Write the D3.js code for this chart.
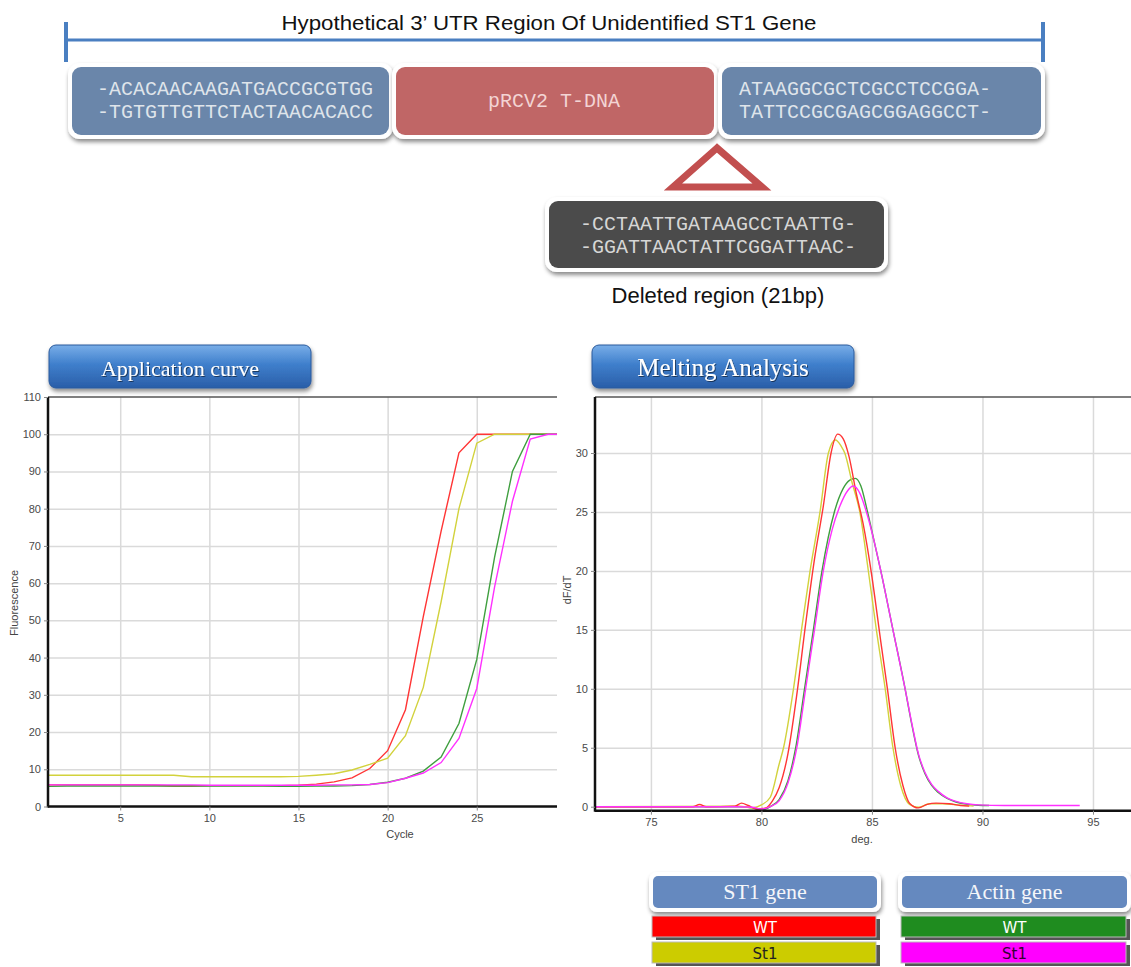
<!DOCTYPE html>
<html>
<head>
<meta charset="utf-8">
<script src="https://cdn.jsdelivr.net/npm/d3@7"></script>
<style>
  body { margin: 0; background: #fff; }
  svg { display: block; }
</style>
</head>
<body>
<svg id="mainsvg" width="1131" height="967"></svg>
<script>
// ---------- data ----------
const titleText = 'Hypothetical 3\u2019 UTR Region Of Unidentified ST1 Gene'
const leftSeq = ['-ACACAACAAGATGACCGCGTGG', '-TGTGTTGTTCTACTAACACACC']
const insertLabel = 'pRCV2 T-DNA'
const rightSeq = ['ATAAGGCGCTCGCCTCCGGA-', 'TATTCCGCGAGCGGAGGCCT-']
const deletedSeq = ['-CCTAATTGATAAGCCTAATTG-', '-GGATTAACTATTCGGATTAAC-']
const deletedLabel = 'Deleted region (21bp)'

// amplification curve (fluorescence per cycle)
const ampCycles = [1,2,3,4,5,6,7,8,9,10,11,12,13,14,15,16,17,18,19,20,21,22,23,24,25,26,27,28,29,30]
const ampSt1WT    = [5.8,5.8,5.8,5.8,5.8,5.8,5.7,5.5,5.5,5.6,5.6,5.6,5.6,5.6,5.7,6.0,6.6,7.7,10.2,15,26,51,74,95,100,100,100,100,100,100]
const ampSt1Mut   = [8.4,8.4,8.4,8.4,8.4,8.4,8.4,8.4,8.0,8.0,8.0,8.0,8.0,8.0,8.1,8.4,8.8,9.8,11.3,13,19,32,55,80,97.6,100,100,100,100,100]
const ampActinWT  = [5.4,5.5,5.5,5.5,5.5,5.5,5.5,5.5,5.5,5.5,5.5,5.5,5.5,5.4,5.4,5.5,5.5,5.6,5.9,6.5,7.6,9.5,13.3,22.3,39.5,67,90,100,100,100]
const ampActinMut = [5.8,5.8,5.8,5.8,5.8,5.8,5.8,5.8,5.8,5.7,5.7,5.7,5.7,5.7,5.7,5.7,5.8,5.8,5.9,6.4,7.6,9.0,11.8,18.3,31.7,59,82,98.7,100,100]
const ampXTicks = [5, 10, 15, 20, 25]
const ampYTicks = [0, 10, 20, 30, 40, 50, 60, 70, 80, 90, 100, 110]

// melting analysis (dF/dT per temperature, [deg, value])
const meltSt1WT = [[72.47,0],[76.9,0],[77.2,0.2],[77.5,0],[78.8,0.05],[79.1,0.3],[79.4,0.1],[79.8,-0.2],[80.2,-0.1],[80.5,0.5],[80.8,1.6],[81.2,4.5],[81.6,9.5],[82.0,15.5],[82.4,21],[82.8,25.5],[83.15,30],[83.45,31.6],[83.7,31.2],[83.95,29.8],[84.3,26.5],[84.6,24],[85.0,19.5],[85.4,14],[85.7,10],[86.05,5],[86.4,1.8],[86.7,0.3],[87.1,-0.1],[87.5,0.2],[87.9,0.3],[88.5,0.25],[89.0,0.1],[89.4,0.05]]
const meltSt1Mut = [[72.47,0],[79.0,0.05],[79.6,-0.1],[80.0,0.15],[80.4,0.8],[80.8,3.6],[81.0,5],[81.45,10],[81.85,15.5],[82.2,20],[82.65,25],[83.03,30],[83.35,31.1],[83.6,30.6],[83.77,30],[84.1,27.5],[84.45,25],[84.8,20.5],[85.2,15],[85.6,10],[85.95,5],[86.3,1.8],[86.7,0.2],[87.1,-0.05],[87.6,0.25],[88.2,0.25],[88.8,0.15],[89.6,0.05]]
const meltActinWT = [[72.47,0],[79.0,0],[79.6,-0.1],[80.0,-0.3],[80.4,0],[80.8,0.6],[81.2,2.2],[81.55,5],[81.95,10],[82.35,15],[82.74,20],[83.3,25],[83.7,27],[84.0,27.7],[84.25,27.85],[84.5,27.2],[84.8,25],[85.1,22.5],[85.4,20],[85.95,15],[86.5,10],[86.8,7],[87.1,4.4],[87.4,2.8],[87.7,1.8],[88.0,1.2],[88.4,0.7],[88.8,0.4],[89.3,0.2],[89.8,0.12],[90.3,0.1]]
const meltActinMut = [[72.47,0],[79.0,0],[79.6,-0.05],[80.0,-0.2],[80.4,0],[80.8,0.5],[81.2,2],[81.6,5],[82.0,10],[82.4,15],[82.8,20],[83.2,23.5],[83.55,25.5],[83.9,26.8],[84.15,27.2],[84.45,26.6],[84.75,25],[85.1,22.5],[85.4,20],[85.95,15],[86.5,10],[86.8,7.1],[87.1,4.5],[87.4,2.9],[87.7,1.9],[88.0,1.3],[88.4,0.75],[88.8,0.45],[89.3,0.25],[89.8,0.15],[91.0,0.1],[94.4,0.1]]
const meltXTicks = [75, 80, 85, 90, 95]
const meltYTicks = [0, 5, 10, 15, 20, 25, 30]

const curveColors = ['#ff3535', '#d2d23c', '#3f9f3f', '#ff30ff']
const legendGenes = ['ST1 gene', 'Actin gene']
const legendRows = ['WT', 'St1']
const legendFills = [['#ff0000', '#cccc00'], ['#1f8c1f', '#ff00ff']]
const legendText = [['#ffffff', '#222222'], ['#ffffff', '#330033']]

// ---------- setup ----------
const svg = d3.select('#mainsvg')
const defs = svg.append('defs')

const shadow = defs.append('filter').attr('id', 'shadow')
  .attr('x', '-10%').attr('y', '-20%').attr('width', '120%').attr('height', '150%')
shadow.append('feDropShadow').attr('dx', 1).attr('dy', 3).attr('stdDeviation', 2)
  .attr('flood-color', '#000').attr('flood-opacity', 0.45)

const txtShadow = defs.append('filter').attr('id', 'txtshadow')
txtShadow.append('feDropShadow').attr('dx', 1).attr('dy', 1).attr('stdDeviation', 0.6)
  .attr('flood-color', '#000').attr('flood-opacity', 0.5)

const btnGrad = defs.append('linearGradient').attr('id', 'btngrad')
  .attr('x1', 0).attr('y1', 0).attr('x2', 0).attr('y2', 1)
btnGrad.append('stop').attr('offset', '0%').attr('stop-color', '#79aee8')
btnGrad.append('stop').attr('offset', '45%').attr('stop-color', '#3f7fcc')
btnGrad.append('stop').attr('offset', '100%').attr('stop-color', '#2a5ea8')

// ---------- top diagram ----------
const diagram = svg.append('g')
diagram.append('text').attr('x', 549).attr('y', 30)
  .attr('text-anchor', 'middle').attr('font-family', 'Liberation Sans, Arial, sans-serif')
  .attr('font-size', 21).attr('fill', '#111')
  .attr('textLength', 535).attr('lengthAdjust', 'spacingAndGlyphs')
  .text(titleText)

diagram.append('line').attr('x1', 66).attr('x2', 1043).attr('y1', 40).attr('y2', 40)
  .attr('stroke', '#4a7fc1').attr('stroke-width', 3)
;[66, 1043].forEach(xx => {
  diagram.append('line').attr('x1', xx).attr('x2', xx).attr('y1', 22).attr('y2', 62)
    .attr('stroke', '#4a7fc1').attr('stroke-width', 4)
})

function seqBox(g, x0, x1, y0, y1, fill, lines, cx, baselines, color) {
  g.append('rect').attr('x', x0 - 4).attr('y', y0 - 4)
    .attr('width', x1 - x0 + 8).attr('height', y1 - y0 + 8)
    .attr('rx', 12).attr('fill', '#fff').attr('filter', 'url(#shadow)')
  g.append('rect').attr('x', x0).attr('y', y0)
    .attr('width', x1 - x0).attr('height', y1 - y0)
    .attr('rx', 9).attr('fill', fill)
  lines.forEach((t, i) => {
    g.append('text').attr('x', cx).attr('y', baselines[i])
      .attr('text-anchor', 'middle')
      .attr('font-family', 'Liberation Mono, Courier New, monospace')
      .attr('font-size', 20).attr('fill', color)
      .text(t)
  })
}

seqBox(diagram, 72, 389, 67, 135, '#6a86aa', leftSeq, 235, [95, 118], '#dfe4ea')
seqBox(diagram, 396, 714, 67, 135, '#c06666', [insertLabel], 554, [107], '#f3d4d4')
seqBox(diagram, 722, 1041, 67, 135, '#6a86aa', rightSeq, 865, [95, 118], '#dfe4ea')

// deletion triangle
diagram.append('path')
  .attr('d', 'M717,148 L673,187 L762,187 Z')
  .attr('fill', 'none').attr('stroke', '#c24f4f').attr('stroke-width', 7)
  .attr('stroke-linejoin', 'miter')

seqBox(diagram, 549, 884, 201, 268, '#4b4b4b', deletedSeq, 718, [230, 253], '#d6d6d6')

diagram.append('text').attr('x', 718).attr('y', 303)
  .attr('text-anchor', 'middle').attr('font-family', 'Liberation Sans, Arial, sans-serif')
  .attr('font-size', 22).attr('fill', '#111').text(deletedLabel)

// ---------- title buttons ----------
function titleButton(x0, x1, y0, y1, label, size) {
  svg.append('rect').attr('x', x0).attr('y', y0)
    .attr('width', x1 - x0).attr('height', y1 - y0)
    .attr('rx', 7).attr('fill', 'url(#btngrad)')
    .attr('stroke', '#2b5a9c').attr('stroke-width', 1)
    .attr('filter', 'url(#shadow)')
  svg.append('text').attr('x', (x0 + x1) / 2).attr('y', y1 - 12)
    .attr('text-anchor', 'middle')
    .attr('font-family', 'Liberation Serif, Times New Roman, serif')
    .attr('font-size', size).attr('fill', '#fff')
    .attr('filter', 'url(#txtshadow)')
    .text(label)
}
titleButton(49, 311, 345, 388, 'Application curve', 22)
titleButton(592, 854, 345, 388, 'Melting Analysis', 25)

// ---------- charts ----------
function drawChart(cfg) {
  const g = svg.append('g')
  const x = d3.scaleLinear().domain(cfg.xDomain).range([cfg.left, cfg.right])
  const y = d3.scaleLinear().domain(cfg.yDomain).range([cfg.bottom, cfg.top])
  const h = cfg.bottom - cfg.top

  // grid
  const gx = g.append('g').attr('transform', `translate(0,${cfg.bottom})`)
    .call(d3.axisBottom(x).tickValues(cfg.xTicks).tickSizeInner(-h).tickSizeOuter(0).tickFormat(''))
  gx.select('.domain').remove()
  gx.selectAll('line').attr('stroke', '#dadada').attr('stroke-width', 1.5)

  const gy = g.append('g').attr('transform', `translate(${cfg.left},0)`)
    .call(d3.axisLeft(y).tickValues(cfg.gridY).tickSizeInner(-(cfg.right - cfg.left)).tickSizeOuter(0).tickFormat(''))
  gy.select('.domain').remove()
  gy.selectAll('line').attr('stroke', '#dadada').attr('stroke-width', 1.5)

  // curves
  const clipId = 'clip' + cfg.name
  defs.append('clipPath').attr('id', clipId).append('rect')
    .attr('x', cfg.left).attr('y', cfg.top)
    .attr('width', cfg.right - cfg.left).attr('height', h)
  const line = d3.line().x(d => x(d[0])).y(d => y(d[1])).curve(cfg.curve)
  g.append('g').attr('clip-path', `url(#${clipId})`)
    .selectAll('path').data(cfg.series).join('path')
    .attr('d', d => line(d))
    .attr('fill', 'none')
    .attr('stroke', (d, i) => cfg.colors[i])
    .attr('stroke-width', 1.4)

  // top border
  g.append('line').attr('x1', cfg.left).attr('x2', cfg.right)
    .attr('y1', cfg.top).attr('y2', cfg.top)
    .attr('stroke', '#555').attr('stroke-width', 1.5)

  // axes
  const ax = g.append('g').attr('transform', `translate(0,${cfg.bottom})`)
    .call(d3.axisBottom(x).tickValues(cfg.xTicks).tickSizeOuter(0).tickSize(4).tickPadding(4))
  const ay = g.append('g').attr('transform', `translate(${cfg.left},0)`)
    .call(d3.axisLeft(y).tickValues(cfg.yTicks).tickSizeOuter(0).tickSize(4).tickPadding(3))
  ;[ax, ay].forEach(a => {
    a.select('.domain').attr('stroke', '#111').attr('stroke-width', 2.5)
    a.selectAll('.tick line').attr('stroke', '#888')
    a.selectAll('.tick text').attr('fill', '#4a4a4a')
      .attr('font-family', 'Liberation Sans, Arial, sans-serif').attr('font-size', 11)
  })
  ax.select('.domain').attr('d', `M${cfg.left},0H${cfg.right}`)
  ay.select('.domain').attr('d', `M0,${cfg.bottom + 1}V${cfg.top}`)

  g.append('text').attr('x', cfg.xTitle[0]).attr('y', cfg.xTitle[1])
    .attr('text-anchor', 'middle').attr('fill', '#444')
    .attr('font-family', 'Liberation Sans, Arial, sans-serif').attr('font-size', 11)
    .text(cfg.xLabel)
  g.append('text')
    .attr('transform', `translate(${cfg.yTitle[0]},${cfg.yTitle[1]}) rotate(-90)`)
    .attr('text-anchor', 'middle').attr('fill', '#444')
    .attr('font-family', 'Liberation Sans, Arial, sans-serif').attr('font-size', 11)
    .text(cfg.yLabel)
}

const ampSeries = [ampSt1WT, ampSt1Mut, ampActinWT, ampActinMut]
  .map(vals => ampCycles.map((c, i) => [c, vals[i]]))

drawChart({
  name: 'amp',
  xDomain: [0.95, 29.5], yDomain: [0, 110],
  left: 48, right: 557, top: 397, bottom: 806.5,
  xTicks: ampXTicks, yTicks: ampYTicks, gridY: ampYTicks.slice(1, -1),
  series: ampSeries, colors: curveColors, curve: d3.curveLinear,
  xLabel: 'Cycle', xTitle: [400, 838],
  yLabel: 'Fluorescence', yTitle: [18, 603]
})

drawChart({
  name: 'melt',
  xDomain: [72.47, 96.72], yDomain: [-0.34, 34.75],
  left: 595, right: 1131, top: 397, bottom: 810.7,
  xTicks: meltXTicks, yTicks: meltYTicks, gridY: meltYTicks.slice(1),
  series: [meltActinWT, meltSt1Mut, meltSt1WT, meltActinMut],
  colors: [curveColors[2], curveColors[1], curveColors[0], curveColors[3]],
  curve: d3.curveMonotoneX,
  xLabel: 'deg.', xTitle: [862, 843],
  yLabel: 'dF/dT', yTitle: [571, 590]
})

// ---------- legend ----------
const legendX = [[653, 877], [902, 1127]]
legendGenes.forEach((name, gi) => {
  const [x0, x1] = legendX[gi]
  const lg = svg.append('g')
  lg.append('rect').attr('x', x0 - 4).attr('y', 872)
    .attr('width', x1 - x0 + 8).attr('height', 40).attr('rx', 8)
    .attr('fill', '#fff').attr('filter', 'url(#shadow)')
  lg.append('rect').attr('x', x0).attr('y', 876)
    .attr('width', x1 - x0).attr('height', 32).attr('rx', 5)
    .attr('fill', '#6589bf')
  lg.append('text').attr('x', (x0 + x1) / 2).attr('y', 899)
    .attr('text-anchor', 'middle')
    .attr('font-family', 'Liberation Serif, Times New Roman, serif')
    .attr('font-size', 22).attr('fill', '#f4f6fa')
    .text(name)

  legendRows.forEach((row, ri) => {
    const yy = 916 + ri * 26
    lg.append('rect').attr('x', x0 + 3).attr('y', yy + 3)
      .attr('width', x1 - x0).attr('height', 21).attr('fill', '#555')
    lg.append('rect').attr('x', x0 - 1).attr('y', yy)
      .attr('width', x1 - x0).attr('height', 21)
      .attr('fill', legendFills[gi][ri]).attr('stroke', '#bbb').attr('stroke-width', 1)
    lg.append('text').attr('x', (x0 + x1) / 2).attr('y', yy + 17)
      .attr('text-anchor', 'middle')
      .attr('font-family', 'DejaVu Sans, Verdana, sans-serif')
      .attr('font-size', 15).attr('fill', legendText[gi][ri])
      .text(row)
  })
})
</script>
</body>
</html>
